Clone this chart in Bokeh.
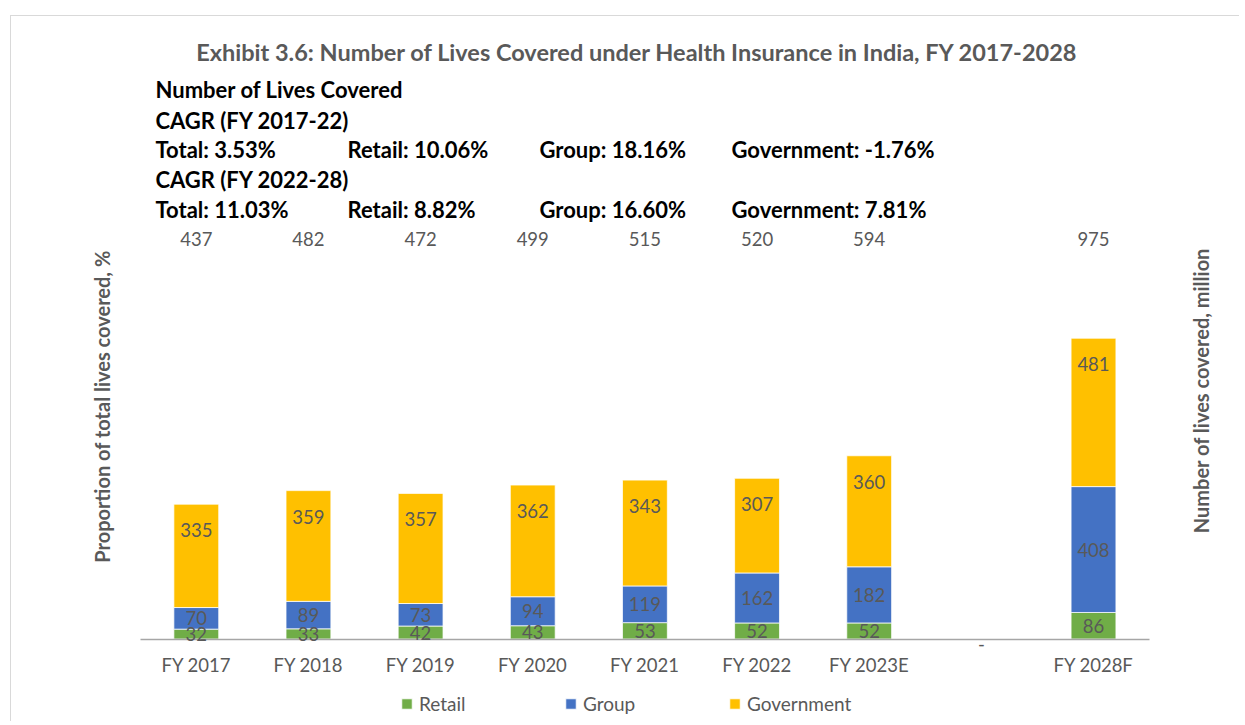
import numpy as np
from bokeh.plotting import figure
from bokeh.models import (Range1d, Label, LabelSet, Legend, LegendItem, FixedTicker,
                          ColumnDataSource, LinearAxis)
from bokeh.core.properties import value
from bokeh.embed import file_html
from bokeh.resources import INLINE

# ---------------- data ----------------
categories = ["FY 2017", "FY 2018", "FY 2019", "FY 2020", "FY 2021",
              "FY 2022", "FY 2023E", "", "FY 2028F"]
retail = [32, 33, 42, 43, 53, 52, 52, 0, 86]
group = [70, 89, 73, 94, 119, 162, 182, 0, 408]
government = [335, 359, 357, 362, 343, 307, 360, 0, 481]
totals = [437, 482, 472, 499, 515, 520, 594, None, 975]
series_names = ["Retail", "Group", "Government"]

title_text = "Exhibit 3.6: Number of Lives Covered under Health Insurance in India, FY 2017-2028"
cagr_header = "Number of Lives Covered"
cagr_period_1 = "CAGR (FY 2017-22)"
cagr_values_1 = ["Total: 3.53%", "Retail: 10.06%", "Group: 18.16%", "Government: -1.76%"]
cagr_period_2 = "CAGR (FY 2022-28)"
cagr_values_2 = ["Total: 11.03%", "Retail: 8.82%", "Group: 16.60%", "Government: 7.81%"]
left_title = "Proportion of total lives covered, %"
right_title = "Number of lives covered, million"

# ---------------- layout constants ----------------
OX, OY = 11, 16          # canvas origin on the page (after css margin + border)
W = 1228                 # canvas width
LEFT = 42                # empty left border, so the centred legend sits like the source
CX0, XS = 195.8, 112.15  # page x of first category centre, px per category
AXIS_Y, YS = 638.5, 0.3085
FRAME_BOTTOM = 721       # frame reaches below the axis so the legend fits inside it
FRAME_H = FRAME_BOTTOM - OY

def dx(px):
    return (px - CX0) / XS

def dy(py):
    return (AXIS_Y - py) / YS

colors = ["#70AD47", "#4472C4", "#FFC000"]
TXT = "#595959"
FONT = "Lato"
VAL_SIZE = "18.5px"

p = figure(frame_width=W - LEFT, frame_height=FRAME_H, output_backend="svg",
           toolbar_location=None,
           x_range=Range1d(dx(OX + LEFT), dx(OX + W)),
           y_range=Range1d(dy(FRAME_BOTTOM), dy(OY)),
           x_axis_location=None, y_axis_location=None)
p.min_border = 0
p.min_border_left = LEFT
p.min_border_right = 0
p.min_border_top = 0
p.min_border_bottom = 0
p.outline_line_color = None
p.grid.visible = False
p.styles = {"margin-left": "10px", "margin-top": "15px",
            "border-left": "1px solid #d9d9d9", "border-top": "1px solid #d9d9d9"}

idx = list(range(len(categories)))
src = ColumnDataSource(dict(x=idx, Retail=retail, Group=group, Government=government))
rends = p.vbar_stack(series_names, x="x", width=0.4, source=src, color=colors,
                     line_color="white", line_width=0.75)

# x axis, drawn at value 0 inside the frame
xaxis = LinearAxis(ticker=FixedTicker(ticks=idx),
                   major_label_overrides={i: c for i, c in zip(idx, categories)},
                   bounds=(-0.5, len(categories) - 0.5), fixed_location=0)
xaxis.axis_line_color = "#a6a6a6"
xaxis.axis_line_width = 1.3
xaxis.major_tick_line_color = None
xaxis.minor_tick_line_color = None
xaxis.major_tick_out = 0
xaxis.major_tick_in = 0
xaxis.major_label_standoff = 15
xaxis.major_label_text_font = FONT
xaxis.major_label_text_font_size = VAL_SIZE
xaxis.major_label_text_color = TXT
p.add_layout(xaxis, "below")

# segment labels
r = np.array(retail, dtype=float)
g = np.array(group, dtype=float)
v = np.array(government, dtype=float)
lab_kw = dict(text_font=value(FONT), text_font_size=value(VAL_SIZE), text_color=TXT,
              text_align="center", text_baseline="middle")

ret_src = ColumnDataSource(dict(
    x=idx,
    y=[ri / 2 if ri > 0 else -4.5 / YS for ri in r],
    t=[str(int(ri)) if ri > 0 else "-" for ri in r]))
p.add_layout(LabelSet(x="x", y="y", text="t", source=ret_src, **lab_kw))

gi = [i for i in idx if g[i] > 0]
grp_src = ColumnDataSource(dict(x=gi, y=[r[i] + g[i] / 2 for i in gi],
                                t=[str(int(g[i])) for i in gi]))
p.add_layout(LabelSet(x="x", y="y", text="t", source=grp_src, **lab_kw))

vi = [i for i in idx if v[i] > 0]
gov_src = ColumnDataSource(dict(x=vi, y=[r[i] + g[i] + v[i] - 26 / YS for i in vi],
                                t=[str(int(v[i])) for i in vi]))
p.add_layout(LabelSet(x="x", y="y", text="t", source=gov_src, **lab_kw))

ti = [i for i in idx if totals[i] is not None]
tot_src = ColumnDataSource(dict(x=ti, y=[dy(238)] * len(ti), t=[str(totals[i]) for i in ti]))
p.add_layout(LabelSet(x="x", y="y", text="t", source=tot_src, **lab_kw))

# legend: equal-width columns, at the bottom of the frame under the category labels
legend = Legend(items=[LegendItem(label=n, renderers=[rr]) for n, rr in zip(series_names, rends)],
                orientation="horizontal", location="bottom_center")
legend.glyph_width = 13
legend.glyph_height = 13
legend.label_standoff = 6
legend.spacing = 0
legend.label_width = 145
legend.label_height = 22
legend.label_text_font = FONT
legend.label_text_font_size = "19px"
legend.label_text_color = TXT
legend.border_line_color = None
legend.background_fill_alpha = 0
legend.margin = 6
legend.padding = 0
p.add_layout(legend)

# title and text block
p.add_layout(Label(x=dx(637), y=dy(51), text=title_text, text_font=FONT,
                   text_font_style="bold", text_font_size="23.5px", text_color=TXT,
                   text_align="center", text_baseline="middle"))

blk = dict(text_font=FONT, text_font_style="bold", text_font_size="22px",
           text_color="black", text_align="left", text_baseline="middle")
col_x = [155, 347, 539, 731]
p.add_layout(Label(x=dx(155), y=dy(89), text=cagr_header, **blk))
p.add_layout(Label(x=dx(155), y=dy(120), text=cagr_period_1, **blk))
for cx, t in zip(col_x, cagr_values_1):
    p.add_layout(Label(x=dx(cx), y=dy(149), text=t, **blk))
p.add_layout(Label(x=dx(155), y=dy(179), text=cagr_period_2, **blk))
for cx, t in zip(col_x, cagr_values_2):
    p.add_layout(Label(x=dx(cx), y=dy(209), text=t, **blk))

side = dict(text_font=FONT, text_font_style="bold", text_font_size="20px",
            text_color=TXT, text_align="center", text_baseline="middle",
            angle=np.pi / 2)
p.add_layout(Label(x=dx(101), y=dy(406), text=left_title, **side))
p.add_layout(Label(x=dx(1200), y=dy(390), text=right_title, **side))

open("out.html", "w").write(file_html(p, INLINE))
